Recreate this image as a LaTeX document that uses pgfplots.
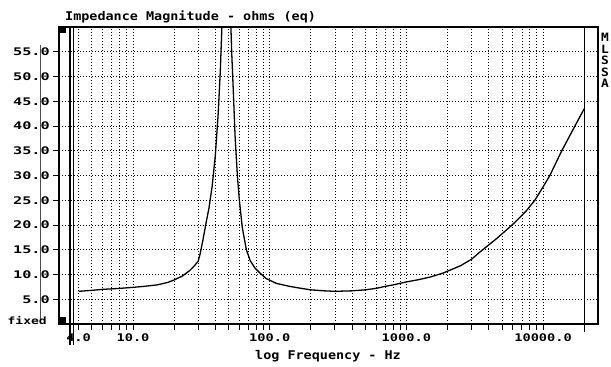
\documentclass[border=0pt]{standalone}
\usepackage{pgfplots}
\pgfplotsset{compat=1.18}
\usepackage{fontspec}
\setmainfont{DejaVu Sans Mono}
\newfontfamily\tickfont{DejaVu Sans Mono}[FakeStretch=1.3]
\newfontfamily\ytickfont{DejaVu Sans Mono}[FakeStretch=1.45]
\newfontfamily\titlefont{DejaVu Sans Mono}[FakeStretch=1.12]
\pgfplotstableread{
f z
4 6.6
5 6.8
6 7.0
7 7.1
8 7.2
10 7.4
12 7.6
15 7.9
18 8.4
20 8.9
23 9.7
26 10.8
28 11.7
30 12.7
31 14.2
32.5 17.0
34 20.0
36 23.5
38 28.0
40 34.0
42 42.5
43.5 51
44.7 60
46 75
48 85
50 75
51.5 64
52.7 55
54 48
55.8 38
58 30
60 25
63 19.5
67.5 15
72 12.8
78 11.3
84 10.4
94 9.2
112 8.2
140 7.6
170 7.2
200 6.9
250 6.7
300 6.6
400 6.7
500 6.9
600 7.2
700 7.6
800 7.9
1000 8.5
1200 8.9
1500 9.5
1860 10.3
2500 11.8
3000 13.1
3470 14.6
4500 17.1
5500 19.2
6200 20.5
7500 22.8
8700 25
10000 27.7
11200 30
13700 35
17100 40
20000 43.5
}\imp
\begin{document}
\begin{tikzpicture}[x=1pt,y=1pt]
\path[use as bounding box] (0,0) rectangle (611,367);
\begin{axis}[
  at={(59pt,43pt)}, anchor=south west,
  scale only axis, width=539pt, height=297pt,
  xmode=log, xmin=2.875, xmax=25210, ymin=0, ymax=60,
  axis line style={black, line width=1.3pt},
  tick align=outside, xtick pos=bottom, ytick pos=left,
  major tick length=6pt, minor tick length=6pt,
  tick style={black, line width=0.9pt},
  xtick={4,10,100,1000,10000},
  xticklabels={4.0,10.0,100.0,1000.0,10000.0},
  minor xtick={5,6,7,8,9,20,30,40,50,60,70,80,90,200,300,400,500,600,700,800,900,2000,3000,4000,5000,6000,7000,8000,9000},
  extra x ticks={20000}, extra x tick labels={},
  extra x tick style={major grid style={solid, black, line width=1.2pt}, major tick length=8pt},
  ytick={5,10,15,20,25,30,35,40,45,50,55},
  yticklabels={5.0,10.0,15.0,20.0,25.0,30.0,35.0,40.0,45.0,50.0,55.0},
  grid=both,
  major grid style={black, line width=0.8pt, dash pattern=on 1pt off 2pt},
  minor grid style={black, line width=0.8pt, dash pattern=on 1pt off 2pt},
  /pgf/number format/assume math mode=true,
  xticklabel style={font=\tickfont\bfseries\fontsize{10.5}{12}\selectfont, inner sep=2pt, yshift=-1.5pt},
  yticklabel style={font=\ytickfont\bfseries\fontsize{10.5}{12}\selectfont, inner sep=2pt, xshift=-1pt},
]
\addplot[black, line width=1.3pt, mark=none] table[x=f, y=z] {\imp};
\end{axis}
% left double line at ~3.6 Hz
\draw[black, line width=1.3pt] (70,22) -- (70,341);
\draw[black, line width=1.3pt] (73.5,22) -- (73.5,341);
% black squares
\fill[black] (59,334) rectangle (66,341);
\fill[black] (59,43) rectangle (66,50);
% thin vertical line through labels
\draw[black!70, line width=0.7pt] (40,47) -- (40,322);
% texts
\node[font=\titlefont\bfseries\fontsize{12}{14}\selectfont, anchor=base west, inner sep=0pt] at (65,346) {Impedance Magnitude - ohms (eq)};
\node[font=\titlefont\bfseries\fontsize{12}{14}\selectfont, anchor=base west, inner sep=0pt] at (255,7) {log Frequency - Hz};
\node[font=\tickfont\bfseries\fontsize{10}{12}\selectfont, anchor=base east, inner sep=0pt] at (47,42) {fixed};
\foreach \t/\yy in {M/325, L/313.5, S/302, S/290.5, A/279}
  \node[font=\titlefont\bfseries\fontsize{11.5}{12}\selectfont, anchor=base west, inner sep=0pt] at (601,\yy) {\t};
\end{tikzpicture}
\end{document}
